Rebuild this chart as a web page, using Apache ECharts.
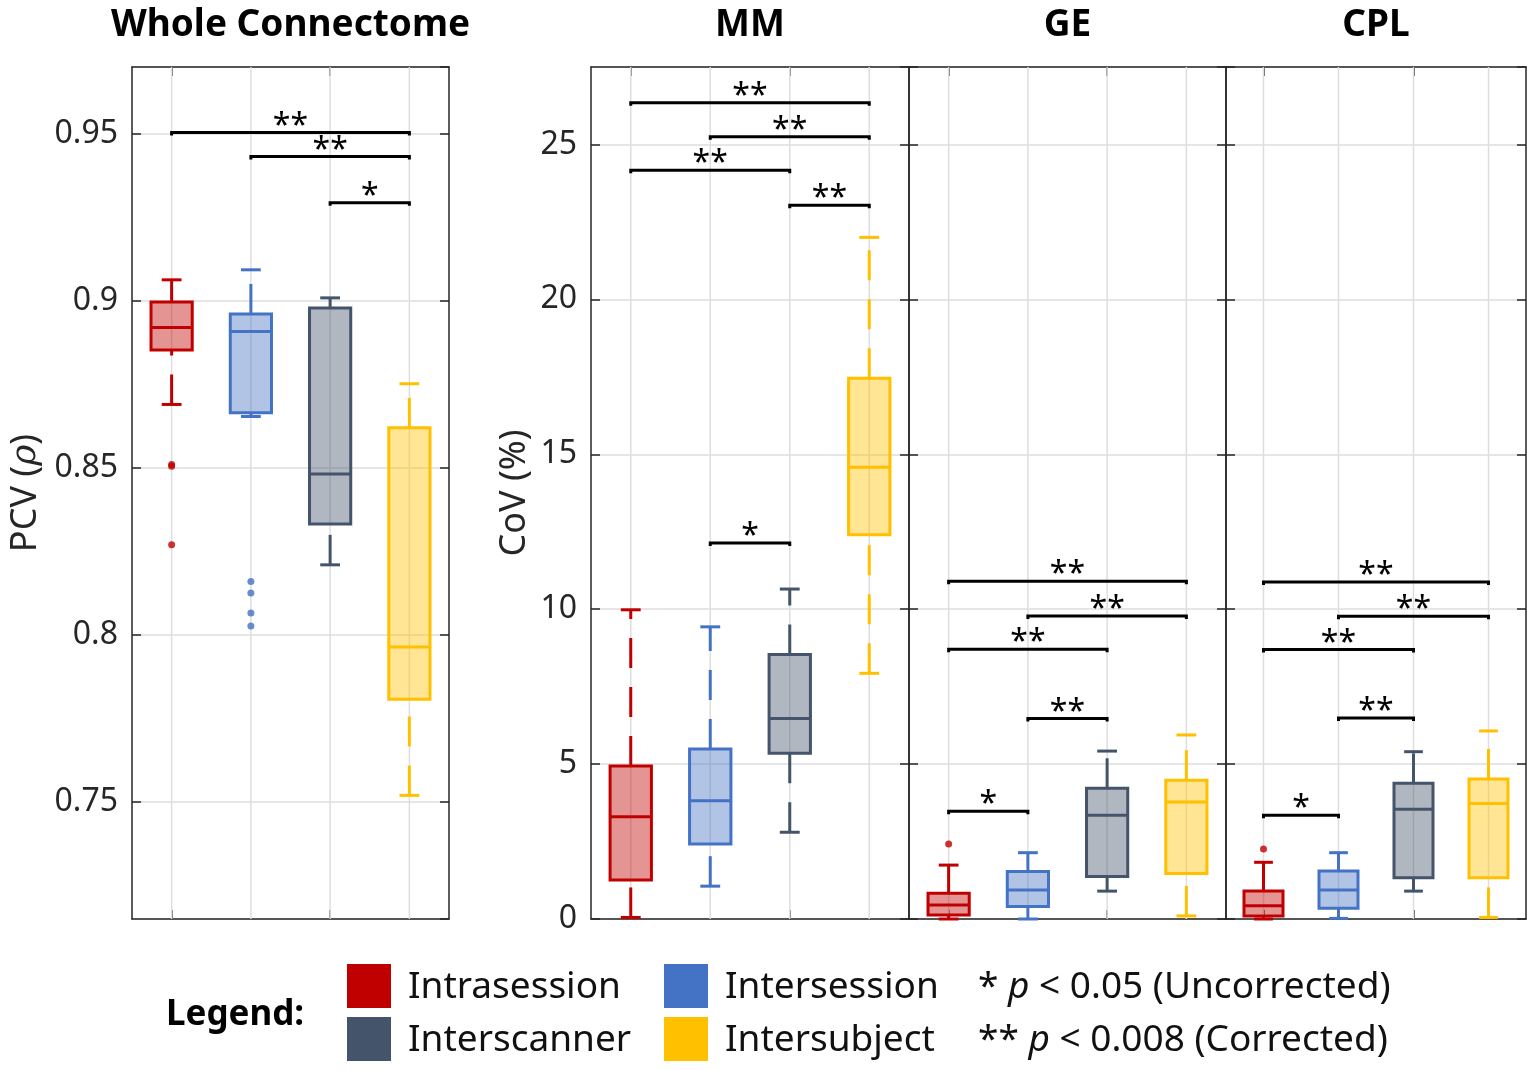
<!DOCTYPE html>
<html>
<head>
<meta charset="utf-8">
<title>Connectome reliability</title>
<script src="https://cdn.jsdelivr.net/npm/echarts@6/dist/echarts.min.js"></script>
<style>
  html, body { margin: 0; padding: 0; background: #fff; }
  #chart { width: 1527px; height: 1070px; }
</style>
</head>
<body>
<div id="chart"></div>
<script>
const FONT = "'Noto Sans', 'Open Sans', sans-serif"
const FRAME = '#262626'
const GRID = '#dedede'

const groups = ['Intrasession', 'Intersession', 'Interscanner', 'Intersubject']
const edgeColors = ['#C00000', '#4472C4', '#44546A', '#FFC000']

// [lower whisker, q1, median, q3, upper whisker], one row per group
const pcvBoxes = [
  [0.869, 0.8853, 0.892, 0.8997, 0.9063],
  [0.8654, 0.8665, 0.8908, 0.8961, 0.9093],
  [0.821, 0.8332, 0.8482, 0.8979, 0.9009],
  [0.752, 0.7808, 0.7964, 0.862, 0.8752],
]
const mmBoxes = [
  [0.05, 1.26, 3.3, 4.94, 9.98],
  [1.06, 2.42, 3.82, 5.49, 9.43],
  [2.8, 5.35, 6.47, 8.54, 10.65],
  [7.93, 12.4, 14.58, 17.45, 22.0],
]
const geBoxes = [
  [0.0, 0.13, 0.45, 0.83, 1.74],
  [0.0, 0.4, 0.94, 1.53, 2.14],
  [0.9, 1.37, 3.35, 4.22, 5.42],
  [0.1, 1.47, 3.78, 4.48, 5.94],
]
const cplBoxes = [
  [0.0, 0.1, 0.43, 0.9, 1.83],
  [0.02, 0.35, 0.94, 1.55, 2.14],
  [0.9, 1.33, 3.54, 4.38, 5.4],
  [0.05, 1.33, 3.73, 4.52, 6.07],
]

// [group, value]
const pcvOutliers = [[0, 0.8505], [0, 0.851], [0, 0.827], [1, 0.816], [1, 0.8126], [1, 0.8066], [1, 0.8027]]
const mmOutliers = []
const geOutliers = [[0, 2.42]]
const cplOutliers = [[0, 2.26]]

// [from group, to group, bracket height, stars]
const pcvSig = [[0, 3, 0.9504, '**'], [1, 3, 0.9432, '**'], [2, 3, 0.9294, '*']]
const mmSig = [[0, 3, 26.35, '**'], [1, 3, 25.25, '**'], [0, 2, 24.17, '**'], [2, 3, 23.04, '**'], [1, 2, 12.14, '*']]
const geSig = [[0, 3, 10.9, '**'], [1, 3, 9.78, '**'], [0, 2, 8.71, '**'], [1, 2, 6.47, '**'], [0, 1, 3.48, '*']]
const cplSig = [[0, 3, 10.88, '**'], [1, 3, 9.77, '**'], [0, 2, 8.7, '**'], [1, 2, 6.49, '**'], [0, 1, 3.35, '*']]

const pcvRange = [0.715, 0.97]
const covRange = [0, 27.5]

const panels = [
  { title: 'Whole Connectome', left: 132, width: 317, range: pcvRange, boxes: pcvBoxes, outliers: pcvOutliers, sig: pcvSig, labels: true, minLabel: false, name: 'PCV ({i|ρ})', nameGap: 88 },
  { title: 'MM', left: 591, width: 318, range: covRange, boxes: mmBoxes, outliers: mmOutliers, sig: mmSig, labels: true, minLabel: true, name: 'CoV (%)', nameGap: 58 },
  { title: 'GE', left: 909, width: 317, range: covRange, boxes: geBoxes, outliers: geOutliers, sig: geSig, labels: false },
  { title: 'CPL', left: 1226, width: 300, range: covRange, boxes: cplBoxes, outliers: cplOutliers, sig: cplSig, labels: false },
]
const TOP = 67
const HEIGHT = 852

const frameLine = { show: true, onZero: false, lineStyle: { color: FRAME, width: 1.5 } }
const innerTick = { show: true, inside: true, length: 9, lineStyle: { color: FRAME, width: 1.5 } }

function renderBox(params, api) {
  const i = api.value(0)
  const pLo = api.coord([i, api.value(1)])
  const pQ1 = api.coord([i, api.value(2)])
  const pMed = api.coord([i, api.value(3)])
  const pQ3 = api.coord([i, api.value(4)])
  const pHi = api.coord([i, api.value(5)])
  const band = api.size([1, 0])[0]
  const bw = band * 0.52
  const cw = band * 0.25
  const x = pMed[0]
  const c = edgeColors[i]
  const line = (x1, y1, x2, y2, dash) => ({
    type: 'line',
    shape: { x1, y1, x2, y2 },
    style: dash ? { stroke: c, lineWidth: 3, lineDash: dash } : { stroke: c, lineWidth: 3 },
  })
  return {
    type: 'group',
    children: [
      line(x, pLo[1], x, pQ1[1], [30, 19]), // MATLAB draws whiskers from the low end up
      line(x, pQ3[1], x, pHi[1], [30, 19]),
      line(x - cw / 2, pLo[1], x + cw / 2, pLo[1]),
      line(x - cw / 2, pHi[1], x + cw / 2, pHi[1]),
      {
        type: 'rect',
        shape: { x: x - bw / 2, y: pQ3[1], width: bw, height: pQ1[1] - pQ3[1] },
        style: { fill: echarts.color.modifyAlpha(c, 0.42), stroke: c, lineWidth: 3 },
      },
      line(x - bw / 2, pMed[1], x + bw / 2, pMed[1]),
    ],
  }
}

function sigRenderer(sig) {
  return function (params, api) {
    const p1 = api.coord([api.value(0), api.value(2)])
    const p2 = api.coord([api.value(1), api.value(2)])
    return {
      type: 'group',
      children: [
        {
          type: 'polyline',
          shape: { points: [[p1[0], p1[1] + 3], p1, p2, [p2[0], p2[1] + 3]] },
          style: { stroke: '#000', lineWidth: 3, fill: null },
        },
        {
          type: 'text',
          x: (p1[0] + p2[0]) / 2,
          y: p1[1] - 6,
          style: {
            text: sig[params.dataIndex][3],
            fill: '#000',
            font: '32px ' + FONT,
            textAlign: 'center',
            textVerticalAlign: 'middle',
          },
        },
      ],
    }
  }
}

function renderVGrid(params, api) {
  const x = api.coord([api.value(0), api.value(1)])[0]
  const cs = params.coordSys
  return {
    type: 'line',
    shape: { x1: x, y1: cs.y, x2: x, y2: cs.y + cs.height },
    style: { stroke: GRID, lineWidth: 1.5 },
  }
}

const grid = panels.map((p) => ({ left: p.left, top: TOP, width: p.width, height: HEIGHT }))

const xAxis = []
const yAxis = []
const series = []

panels.forEach((p, k) => {
  ;['bottom', 'top'].forEach((pos) => {
    xAxis.push({
      gridIndex: k,
      type: 'category',
      data: groups,
      position: pos,
      boundaryGap: true,
      axisLine: frameLine,
      axisTick: Object.assign({ alignWithLabel: true }, innerTick),
      axisLabel: { show: false },
      splitLine: { show: false },
    })
  })
  yAxis.push({
    gridIndex: k,
    type: 'value',
    position: 'left',
    min: p.range[0],
    max: p.range[1],
    splitNumber: 5,
    axisLine: frameLine,
    axisTick: innerTick,
    axisLabel: {
      show: p.labels,
      fontSize: 32,
      fontFamily: FONT,
      color: FRAME,
      margin: 14,
      showMinLabel: !!p.minLabel,
      showMaxLabel: false,
    },
    splitLine: { show: true, lineStyle: { color: GRID, width: 1.5 } },
    name: p.name || '',
    nameLocation: 'middle',
    nameGap: p.nameGap || 0,
    nameTextStyle: {
      fontSize: 36,
      fontFamily: FONT,
      color: FRAME,
      rich: { i: { fontSize: 36, fontFamily: "'DejaVu Serif', serif", fontStyle: 'italic', color: FRAME } },
    },
  })
  yAxis.push({
    gridIndex: k,
    type: 'value',
    position: 'right',
    min: p.range[0],
    max: p.range[1],
    splitNumber: 5,
    axisLine: frameLine,
    axisTick: innerTick,
    axisLabel: { show: false },
    splitLine: { show: false },
  })

  const xi = 2 * k
  const yi = 2 * k
  series.push({
    type: 'custom',
    xAxisIndex: xi,
    yAxisIndex: yi,
    z: 1,
    silent: true,
    renderItem: renderVGrid,
    encode: { x: 0, y: 1 },
    data: groups.map((g, i) => [i, p.range[0]]),
  })
  series.push({
    type: 'custom',
    name: p.title,
    xAxisIndex: xi,
    yAxisIndex: yi,
    z: 2,
    renderItem: renderBox,
    encode: { x: 0, y: [1, 2, 3, 4, 5] },
    data: p.boxes.map((b, i) => [i].concat(b)),
  })
  series.push({
    type: 'scatter',
    xAxisIndex: xi,
    yAxisIndex: yi,
    z: 3,
    symbolSize: 7,
    itemStyle: { color: (d) => edgeColors[d.value[0]] },
    data: p.outliers,
  })
  series.push({
    type: 'custom',
    xAxisIndex: xi,
    yAxisIndex: yi,
    z: 4,
    renderItem: sigRenderer(p.sig),
    encode: { x: [0, 1], y: 2 },
    data: p.sig.map((s) => [s[0], s[1], s[2]]),
  })
})

const graphic = []
panels.forEach((p) => {
  graphic.push({
    type: 'text',
    x: p.left + p.width / 2,
    y: 25,
    style: { text: p.title, font: 'bold 37px ' + FONT, fill: '#000', textAlign: 'center', textVerticalAlign: 'middle' },
  })
})

// legend block: 2 x 2 swatches plus the significance key
graphic.push({
  type: 'text',
  x: 166,
  y: 1015,
  style: { text: 'Legend:', font: 'bold 35px ' + FONT, fill: '#000', textAlign: 'left', textVerticalAlign: 'middle' },
})
const legendCols = [347, 664]
const legendRows = [964, 1017]
groups.forEach((g, i) => {
  const x = legendCols[i % 2]
  const y = legendRows[Math.floor(i / 2)]
  graphic.push({ type: 'rect', shape: { x, y, width: 44, height: 44 }, style: { fill: edgeColors[i] } })
  graphic.push({
    type: 'text',
    x: x + 61,
    y: y + 23,
    style: { text: g, font: '37px ' + FONT, fill: '#111', textAlign: 'left', textVerticalAlign: 'middle' },
  })
})
const pNotes = ['* {i|p} < 0.05 (Uncorrected)', '** {i|p} < 0.008 (Corrected)']
pNotes.forEach((t, r) => {
  graphic.push({
    type: 'text',
    x: 978,
    y: legendRows[r] + 23,
    style: {
      text: t,
      font: '37px ' + FONT,
      fill: '#111',
      textAlign: 'left',
      textVerticalAlign: 'middle',
      rich: { i: { fontStyle: 'italic', fontSize: 37, fontFamily: FONT, fill: '#111' } },
    },
  })
})

const chart = echarts.init(document.getElementById('chart'))
chart.setOption({
  animation: false,
  backgroundColor: '#fff',
  grid,
  xAxis,
  yAxis,
  series,
  graphic,
})
</script>
</body>
</html>
